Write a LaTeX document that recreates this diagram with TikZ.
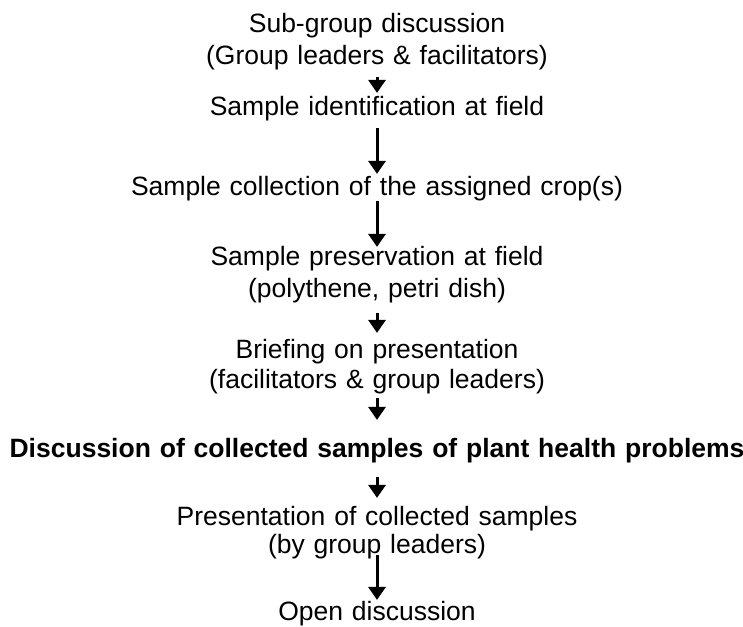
\documentclass[tikz,border=0pt]{standalone}
\usepackage{fontspec}
\setmainfont{Liberation Sans}
\usetikzlibrary{arrows.meta}
\tikzset{
  stage/.style={inner sep=0pt, anchor=base, text width=740pt, align=center,
    font=\fontsize{26.5}{32}\selectfont},
  flow/.style={line width=3pt, -{Triangle[length=13pt,width=17pt]}}
}
\begin{document}
\begin{tikzpicture}[x=1pt,y=-1pt]
\useasboundingbox (0,0) rectangle (743,626);
% steps of the session
\node[stage] (subgroup) at (377,33) {Sub-group discussion\\(Group leaders \& facilitators)};
\node[stage] (identify) at (377,115) {Sample identification at field};
\node[stage] (collect) at (377,195) {Sample collection of the assigned crop(s)};
\node[stage] (preserve) at (377,265) {Sample preservation at field\\(polythene, petri dish)};
\node[stage] (briefing) at (377,358) {Briefing on presentation\\[-2pt](facilitators \& group leaders)};
\node[stage,font=\fontsize{26.5}{32}\selectfont\bfseries] (discuss) at (377,457) {Discussion of collected samples of plant health problems};
\node[stage] (present) at (377,525) {Presentation of collected samples\\[-4pt](by group leaders)};
\node[stage] (open) at (377,620) {Open discussion};
% arrows
\draw[flow, shorten <=6.4pt, shorten >=2.7pt] (subgroup.south) -- (identify.north);
\draw[flow, shorten <=7.4pt, shorten >=1.7pt] (identify.south) -- (collect.north);
\draw[flow, shorten <=0pt, shorten >=-1.3pt] (collect.south) -- (preserve.north);
\draw[flow, shorten <=10.4pt, shorten >=5.7pt] (preserve.south) -- (briefing.north);
\draw[flow, shorten <=4.4pt, shorten >=17.7pt] (briefing.south) -- (discuss.north);
\draw[flow, shorten <=14.4pt, shorten >=7.7pt] (discuss.south) -- (present.north);
\draw[flow, shorten <=-3.6pt, shorten >=0.7pt] (present.south) -- (open.north);
\end{tikzpicture}
\end{document}
